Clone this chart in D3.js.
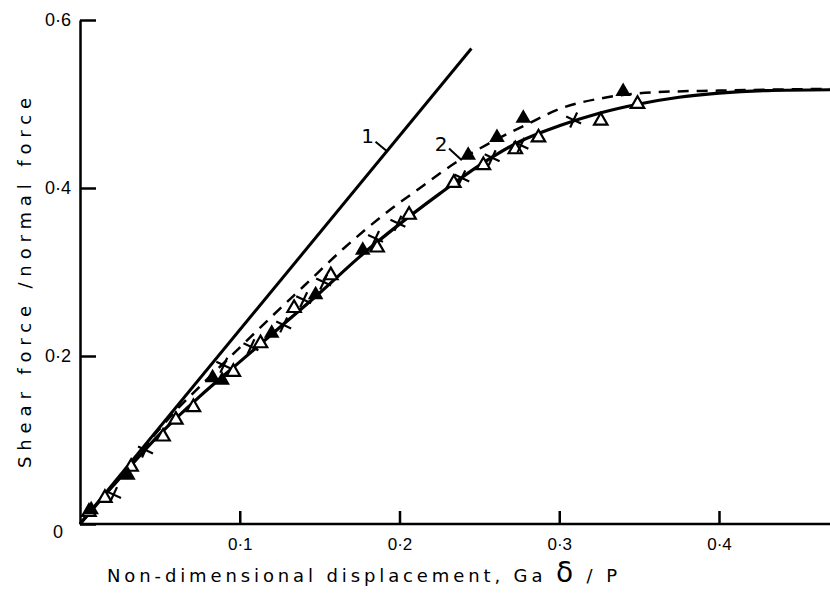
<!DOCTYPE html>
<html>
<head>
<meta charset="utf-8">
<script src="https://cdnjs.cloudflare.com/ajax/libs/d3/7.8.5/d3.min.js"></script>
<style>
  body { margin: 0; background: #fff; }
  svg { display: block; font-family: "DejaVu Sans", sans-serif; }
</style>
</head>
<body>
<div id="chart"></div>
<script>
// values (x = Ga*delta/P, y = shear / normal force)
const xTicks = [0.1, 0.2, 0.3, 0.4];
const yTicks = [0, 0.2, 0.4, 0.6];

// curve 1: linear theory
const lineOne = [[0, 0], [0.245, 0.566]];

// curve 2 (solid) and the dashed comparison curve
const solidCurve = [[0, 0], [0.02, 0.044], [0.05, 0.107], [0.075, 0.152], [0.1, 0.193],
  [0.125, 0.234], [0.15, 0.275], [0.175, 0.318], [0.2, 0.357], [0.225, 0.393],
  [0.25, 0.427], [0.275, 0.455], [0.3, 0.474], [0.325, 0.489], [0.35, 0.5],
  [0.375, 0.508], [0.4, 0.513], [0.43, 0.516], [0.47, 0.517]];
const dashedCurve = [[0, 0], [0.03, 0.068], [0.06, 0.135], [0.08, 0.173], [0.1, 0.21],
  [0.12, 0.247], [0.14, 0.283], [0.165, 0.328], [0.19, 0.368], [0.215, 0.403],
  [0.235, 0.43], [0.255, 0.452], [0.28, 0.476], [0.3, 0.494], [0.33, 0.508],
  [0.36, 0.514], [0.4, 0.516], [0.47, 0.518]];

// experimental points
const openTriangles = [[0.0056, 0.0143], [0.0156, 0.031], [0.032, 0.068], [0.052, 0.104],
  [0.06, 0.124], [0.071, 0.139], [0.096, 0.181], [0.113, 0.215], [0.134, 0.257],
  [0.157, 0.296], [0.186, 0.329], [0.206, 0.368], [0.234, 0.406], [0.2525, 0.427],
  [0.2725, 0.446], [0.287, 0.46], [0.326, 0.48], [0.349, 0.5]];
const crosses = [[0.021, 0.035], [0.041, 0.088], [0.09, 0.189], [0.107, 0.211],
  [0.1275, 0.237], [0.14, 0.267], [0.1525, 0.288], [0.185, 0.34], [0.199, 0.358],
  [0.239, 0.412], [0.258, 0.436], [0.276, 0.451], [0.309, 0.481]];
const filledTriangles = [[0.007, 0.017], [0.03, 0.058], [0.083, 0.174], [0.089, 0.171],
  [0.12, 0.227], [0.1475, 0.273], [0.177, 0.326], [0.243, 0.439], [0.261, 0.46],
  [0.2775, 0.483], [0.34, 0.515]];

// curve labels: [text, label x, label y, leader from, leader to]
const curveLabels = [
  ['1', 0.18, 0.462, [0.185, 0.455], [0.192, 0.444]],
  ['2', 0.226, 0.452, [0.231, 0.447], [0.239, 0.433]]
];

const width = 830, height = 593;

const x = d3.scaleLinear().domain([0, 0.4]).range([80, 719]);
const y = d3.scaleLinear().domain([0, 0.6]).range([524, 20]);

const svg = d3.select('#chart').append('svg')
    .attr('width', width)
    .attr('height', height);

const fmt = d => d === 0 ? '0' : d3.format('.1f')(d).replace('.', '\u00b7');

// x axis, ticks pointing up into the plot
const xAxis = svg.append('g')
    .attr('transform', 'translate(0,' + y(0) + ')')
    .call(d3.axisBottom(x).tickValues(xTicks).tickFormat(fmt)
      .tickSizeInner(-13).tickSizeOuter(0).tickPadding(14));
xAxis.select('.domain').attr('d', 'M' + x(0) + ',0H' + width);

// y axis, ticks pointing right
const yAxis = svg.append('g')
    .attr('transform', 'translate(' + x(0) + ',0)')
    .call(d3.axisLeft(y).tickValues(yTicks).tickFormat(fmt)
      .tickSizeInner(-16).tickSizeOuter(0).tickPadding(9));
yAxis.selectAll('.tick text').filter(d => d === 0)
    .attr('x', -17).attr('dy', '0.75em');

svg.selectAll('.domain, .tick line')
    .attr('stroke', '#000')
    .attr('stroke-width', 2.5);
xAxis.selectAll('text').attr('font-size', 17).attr('fill', '#000');
yAxis.selectAll('text').attr('font-size', 18).attr('fill', '#000');

// axis titles
svg.append('text')
    .attr('x', 362)
    .attr('y', 582)
    .attr('text-anchor', 'middle')
    .attr('font-size', 18)
    .attr('textLength', 510)
    .attr('lengthAdjust', 'spacing')
    .html('Non-dimensional displacement, Ga <tspan font-size="28">\u03b4</tspan> / P');

svg.append('text')
    .attr('transform', 'translate(31,283) rotate(-90)')
    .attr('text-anchor', 'middle')
    .attr('font-size', 18)
    .attr('textLength', 370)
    .attr('lengthAdjust', 'spacing')
    .text('Shear force /normal force');

const line = d3.line()
    .x(d => x(d[0]))
    .y(d => y(d[1]));
const smooth = d3.line()
    .x(d => x(d[0]))
    .y(d => y(d[1]))
    .curve(d3.curveMonotoneX);

svg.append('path')
    .attr('d', line(lineOne))
    .attr('fill', 'none')
    .attr('stroke', '#000')
    .attr('stroke-width', 3);

svg.append('path')
    .attr('d', smooth(dashedCurve))
    .attr('fill', 'none')
    .attr('stroke', '#000')
    .attr('stroke-width', 2.5)
    .attr('stroke-dasharray', '11,8');

svg.append('path')
    .attr('d', smooth(solidCurve))
    .attr('fill', 'none')
    .attr('stroke', '#000')
    .attr('stroke-width', 3.2);

// markers
svg.append('g').selectAll('path')
  .data(openTriangles)
  .join('path')
    .attr('transform', d => 'translate(' + x(d[0]) + ',' + y(d[1]) + ')')
    .attr('d', d3.symbol().type(d3.symbolTriangle).size(78)())
    .attr('fill', '#fff')
    .attr('stroke', '#000')
    .attr('stroke-width', 2.2);

svg.append('g').selectAll('path')
  .data(filledTriangles)
  .join('path')
    .attr('transform', d => 'translate(' + x(d[0]) + ',' + y(d[1]) + ')')
    .attr('d', d3.symbol().type(d3.symbolTriangle).size(105)())
    .attr('fill', '#000');

svg.append('g').selectAll('path')
  .data(crosses)
  .join('path')
    .attr('transform', d => 'translate(' + x(d[0]) + ',' + y(d[1]) + ') rotate(-20)')
    .attr('d', d3.symbol().type(d3.symbolTimes).size(90)())
    .attr('fill', 'none')
    .attr('stroke', '#000')
    .attr('stroke-width', 2.2);

// curve labels with leader lines
const lab = svg.append('g').selectAll('g')
  .data(curveLabels)
  .join('g');
lab.append('text')
    .attr('x', d => x(d[1]))
    .attr('y', d => y(d[2]))
    .attr('text-anchor', 'middle')
    .attr('dy', '0.35em')
    .attr('font-size', 20)
    .text(d => d[0]);
lab.append('line')
    .attr('x1', d => x(d[3][0]))
    .attr('y1', d => y(d[3][1]))
    .attr('x2', d => x(d[4][0]))
    .attr('y2', d => y(d[4][1]))
    .attr('stroke', '#000')
    .attr('stroke-width', 2);
</script>
</body>
</html>
